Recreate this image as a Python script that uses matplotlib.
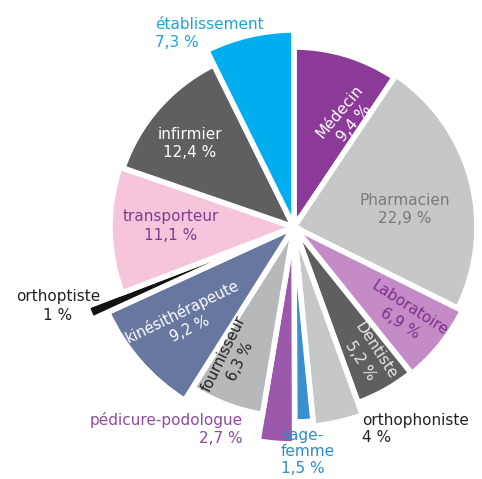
import matplotlib.pyplot as plt
from matplotlib.patches import Wedge

# shares of each category, clockwise from 12 o'clock
categories = ['Médecin', 'Pharmacien', 'Laboratoire', 'Dentiste', 'orthophoniste',
              'sage-femme', 'pédicure-podologue', 'fournisseur', 'kinésithérapeute',
              'orthoptiste', 'transporteur', 'infirmier', 'établissement']
shares = [9.4, 22.9, 6.9, 5.2, 4.0, 1.5, 2.7, 6.3, 9.2, 1.0, 11.1, 12.4, 7.3]
share_labels = ['9,4 %', '22,9 %', '6,9 %', '5,2 %', '4 %', '1,5 %', '2,7 %',
                '6,3 %', '9,2 %', '1 %', '11,1 %', '12,4 %', '7,3 %']

colors = ['#8c3a97', '#c5c7c9', '#c48bc6', '#5f5f61', '#c5c7c9', '#3a8fd0',
          '#9c58ab', '#b6b8ba', '#6877a0', '#111111', '#f6c5dc', '#5f5f61', '#00aeef']
radii = [180, 183, 188, 187, 200, 195, 217, 190, 205, 222, 184, 181, 197]

W, H = 482, 479
cx, cy = 294, H - 227

fig = plt.figure(figsize=(W / 100, H / 100), dpi=100)
ax = fig.add_axes([0, 0, 1, 1])
ax.set_xlim(0, W)
ax.set_ylim(0, H)
ax.set_aspect('equal')
ax.axis('off')

total = sum(shares)
start = 0.0
for share, col, r in zip(shares, colors, radii):
    span = 360.0 * share / total
    # clockwise from the top -> matplotlib's counter-clockwise angles
    t1, t2 = 90 - (start + span), 90 - start
    ax.add_patch(Wedge((cx, cy), r, t1, t2, facecolor=col,
                       edgecolor='white', linewidth=4))
    start += span

font = 'DejaVu Sans'
fs = 11


def label(x, y, s, color, rot=0, ha='center', ma='center', ls=1.25, size=fs):
    ax.text(x, H - y, s, color=color, fontsize=size, family=font, rotation=rot,
            ha=ha, va='center', multialignment=ma, rotation_mode='anchor',
            linespacing=ls)


label(347, 117, f'{categories[0]}\n{share_labels[0]}', 'white', rot=50)
label(405, 209, f'{categories[1]}\n{share_labels[1]}', '#7a7a7c')
label(405, 316, f'{categories[2]}\n{share_labels[2]}', '#7f2f8c', rot=-33)
label(368, 356, f'{categories[3]}\n{share_labels[3]}', '#e8e8e8', rot=-57)
label(362, 429, f'{categories[4]}\n{share_labels[4]}', '#222222', ha='left', ma='left')
label(281, 452, 'sage-\nfemme\n' + share_labels[5], '#2a8ccc', ha='left', ma='left', ls=1.1)
label(243, 429, f'{categories[6]}\n{share_labels[6]}', '#8e4b9f', ha='right', ma='right')
label(232, 358, f'{categories[7]}\n{share_labels[7]}', '#222222', rot=64, size=10.5)
label(186, 320, f'{categories[8]}\n{share_labels[8]}', 'white', rot=26, size=10.5)
label(100, 306, f'{categories[9]}\n{share_labels[9]}', '#222222', ha='right', ma='center')
label(171, 226, f'{categories[10]}\n{share_labels[10]}', '#7b3f8f')
label(190, 143, f'{categories[11]}\n{share_labels[11]}', 'white')
label(155, 33, f'{categories[12]}\n{share_labels[12]}', '#1ba6d8', ha='left', ma='left')

fig.savefig('out.png', dpi=100, facecolor='white')
